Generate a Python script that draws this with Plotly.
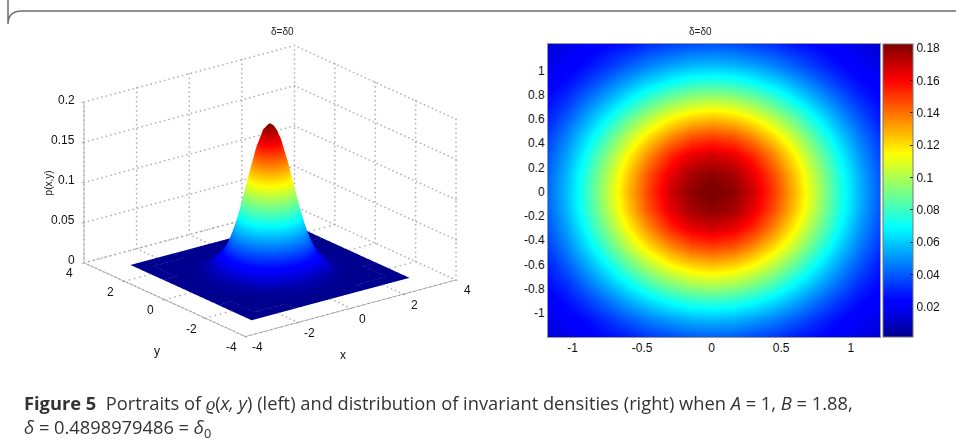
import numpy as np
import plotly.graph_objects as go

W, H = 956, 447

# Grid coordinates (one quadrant; mirrored about 0)
coords = [0, .15, .3, .45, .6, .75, .9, 1.05, 1.2, 1.35, 1.5, 1.75, 2, 2.5, 3]

# Density estimated from the colours/silhouette of the reference, one quadrant
density = [
 [.1845,.1800,.1680,.1495,.1270,.1030,.0780,.0574,.0405,.0273,.0175,.0075,.0029,.0003,0],
 [.1800,.1760,.1640,.1460,.1240,.1000,.0765,.0561,.0396,.0266,.0171,.0074,.0028,.0003,0],
 [.1680,.1640,.1530,.1360,.1155,.0930,.0710,.0523,.0369,.0248,.0159,.0069,.0026,.0002,0],
 [.1495,.1460,.1360,.1210,.1030,.0825,.0635,.0470,.0335,.0225,.0142,.0061,.0023,.0002,0],
 [.1270,.1240,.1155,.1030,.0870,.0695,.0540,.0400,.0285,.0195,.0120,.0052,.0020,.0002,0],
 [.1030,.1000,.0930,.0825,.0695,.0565,.0440,.0325,.0250,.0180,.0098,.0042,.0016,.0001,0],
 [.0780,.0765,.0710,.0635,.0540,.0440,.0340,.0260,.0210,.0150,.0076,.0033,.0012,.0001,0],
 [.0574,.0561,.0523,.0470,.0400,.0325,.0260,.0205,.0170,.0120,.0056,.0024,.0009,.0001,0],
 [.0405,.0396,.0369,.0335,.0285,.0250,.0210,.0170,.0140,.0100,.0039,.0017,.0006,.0001,0],
 [.0273,.0266,.0248,.0225,.0195,.0180,.0150,.0120,.0100,.0070,.0026,.0011,.0004,0,0],
 [.0175,.0171,.0159,.0142,.0120,.0098,.0076,.0056,.0039,.0026,.0017,.0007,.0003,0,0],
 [.0075,.0074,.0069,.0061,.0052,.0042,.0033,.0024,.0017,.0011,.0007,.0003,.0001,0,0],
 [.0029,.0028,.0026,.0023,.0020,.0016,.0012,.0009,.0006,.0004,.0003,.0001,.0001,0,0],
 [.0003,.0003,.0002,.0002,.0002,.0001,.0001,.0001,.0001,0,0,0,0,0,0],
 [0,0,0,0,0,0,0,0,0,0,0,0,0,0,0],
]

box_ticks = [-4, -2, 0, 2, 4]
z_ticks = [0, .05, .1, .15, .2]
z_labels = ["0", "0.05", "0.1", "0.15", "0.2"]
hx_ticks = [-1, -.5, 0, .5, 1]
hx_labels = ["-1", "-0.5", "0", "0.5", "1"]
hy_ticks = [-1, -.8, -.6, -.4, -.2, 0, .2, .4, .6, .8, 1]
hy_labels = ["-1", "-0.8", "-0.6", "-0.4", "-0.2", "0", "0.2", "0.4", "0.6", "0.8", "1"]
cb_ticks = [.02, .04, .06, .08, .1, .12, .14, .16, .18]
cb_labels = ["0.02", "0.04", "0.06", "0.08", "0.1", "0.12", "0.14", "0.16", "0.18"]
title_text = "δ=δ0"

jet = [[0, "#00008f"], [.11, "#0000ff"], [.125, "#0000ff"], [.375, "#00ffff"],
       [.625, "#ffff00"], [.875, "#ff0000"], [1, "#800000"]]

c = np.array(coords)
axis = np.concatenate([-c[:0:-1], c])
q = np.array(density)
top = np.hstack([q[:, :0:-1], q])
full = np.vstack([top[:0:-1], top])

FONT = "Liberation Sans, Arial, sans-serif"
fig = go.Figure()

fig.add_trace(go.Surface(
    x=axis, y=axis, z=full, cmin=0, cmax=.185, colorscale=jet, showscale=False,
    lighting=dict(ambient=1, diffuse=0, specular=0, roughness=1, fresnel=0),
    hoverinfo="skip", scene="scene",
))

# Dotted wall / floor grid drawn as tiny markers along each grid line
lo, hi = box_ticks[0], box_ticks[-1]
zlo, zhi = z_ticks[0], z_ticks[-1]
gx, gy, gz = [], [], []
def dots(p, r, n=60):
    for f in np.linspace(0, 1, n):
        X = p[0] + (r[0]-p[0])*f; Y = p[1] + (r[1]-p[1])*f; Z = p[2] + (r[2]-p[2])*f
        if Z == zlo and abs(X) <= coords[-1] and abs(Y) <= coords[-1]:
            continue  # hidden under the surface floor
        gx.append(X); gy.append(Y); gz.append(Z)
for t in box_ticks:
    dots((t, hi, zlo), (t, hi, zhi), 36)
    dots((hi, t, zlo), (hi, t, zhi), 36)
    dots((t, lo, zlo), (t, hi, zlo), 42)
    dots((lo, t, zlo), (hi, t, zlo), 42)
for t in z_ticks:
    dots((lo, hi, t), (hi, hi, t), 48)
    dots((hi, lo, t), (hi, hi, t), 42)
fig.add_trace(go.Scatter3d(x=gx, y=gy, z=gz, mode="markers",
                           marker=dict(color="#b0b0b0", size=1, line=dict(width=0)),
                           hoverinfo="skip", showlegend=False, scene="scene"))

fig.add_trace(go.Heatmap(
    x=axis, y=axis, z=full, zsmooth="best", zmin=.0014, zmax=.1825, colorscale=jet,
    hoverinfo="skip", xaxis="x", yaxis="y",
    colorbar=dict(x=883/W, xanchor="left", xref="paper", y=1-337/H, yanchor="bottom", yref="paper",
                  len=293, lenmode="pixels", thickness=30, thicknessmode="pixels",
                  xpad=0, ypad=0, outlinecolor="#777777", outlinewidth=1,
                  tickvals=cb_ticks, ticktext=cb_labels, ticks="inside", ticklen=3,
                  tickcolor="#222222", tickfont=dict(family=FONT, size=12, color="#111111")),
))

ax3 = dict(showbackground=False, showgrid=False, zeroline=False, showline=True,
           linecolor="#777777", linewidth=1, ticks="outside", ticklen=3, tickcolor="#777777",
           showspikes=False, showticklabels=False, title=dict(text=""))
a = np.deg2rad(37.5); e = np.deg2rad(20.5); R = 2.0; S = 1.474
tf = dict(family=FONT, size=12, color="#111111")
scene_notes = []
for t in box_ticks:
    scene_notes.append(dict(x=t, y=lo, z=zlo, text=str(t), showarrow=False, font=tf, xshift=11.5, yshift=-10.5))
    scene_notes.append(dict(x=lo, y=t, z=zlo, text=str(t), showarrow=False, font=tf, xshift=-14, yshift=-10.5))
for t, s in zip(z_ticks, z_labels):
    scene_notes.append(dict(x=lo, y=hi, z=t, text=s, showarrow=False, font=tf, xanchor="right", xshift=-7, yshift=2.5))
scene_notes.append(dict(x=0, y=lo, z=zlo, text="x", showarrow=False, font=tf, xshift=-8, yshift=-47))
scene_notes.append(dict(x=lo, y=0, z=zlo, text="y", showarrow=False, font=tf, xshift=-8, yshift=-51))
scene_notes.append(dict(x=lo, y=hi, z=.1, text="p(x,y)", showarrow=False, textangle=-90,
                        font=dict(family=FONT, size=10, color="#111111"), xshift=-36, yshift=0))

fig.update_layout(
    width=W, height=H, margin=dict(l=0, r=0, t=0, b=0),
    paper_bgcolor="white", plot_bgcolor="white", showlegend=False,
    scene=dict(
        domain=dict(x=[30/W, 510/W], y=[1-371/H, 1-11/H]),
        aspectmode="manual", aspectratio=dict(x=S, y=S, z=.647*S),
        annotations=scene_notes,
        camera=dict(projection=dict(type="orthographic"),
                    up=dict(x=0, y=0, z=1), center=dict(x=0, y=0, z=0),
                    eye=dict(x=-R*np.sin(a)*np.cos(e), y=-R*np.cos(a)*np.cos(e), z=R*np.sin(e))),
        xaxis=dict(ax3, range=[lo, hi], tickvals=box_ticks),
        yaxis=dict(ax3, range=[lo, hi], tickvals=box_ticks),
        zaxis=dict(ax3, range=[zlo, zhi], tickvals=z_ticks),
    ),
    xaxis=dict(domain=[548/W, 880/W], range=[-1.176, 1.21], tickvals=hx_ticks, ticktext=hx_labels,
               ticks="", showgrid=False, zeroline=False, showline=True, mirror=True,
               linecolor="#999999", tickfont=tf),
    yaxis=dict(domain=[1-337/H, 1-44/H], range=[-1.2, 1.22], tickvals=hy_ticks, ticktext=hy_labels,
               ticks="", showgrid=False, zeroline=False, showline=True, mirror=True,
               linecolor="#999999", tickfont=tf),
    annotations=[
        dict(text=title_text, x=269/W, y=1-32/H, xref="paper", yref="paper", showarrow=False, yanchor="middle",
             font=dict(family=FONT, size=10, color="#222222")),
        dict(text=title_text, x=714/W, y=1-32/H, xref="paper", yref="paper", showarrow=False, yanchor="middle",
             font=dict(family=FONT, size=10, color="#222222")),
        dict(text="<b>Figure 5</b>  Portraits of <i>ϱ</i>(<i>x, y</i>) (left) and distribution of invariant densities (right) when <i>A</i> = 1, <i>B</i> = 1.88,",
             x=22/W, y=1-402/H, xref="paper", yref="paper", xanchor="left", yanchor="middle", showarrow=False,
             font=dict(family="Open Sans", size=18.3, color="#333333")),
        dict(text="<i>δ</i> = 0.4898979486 = <i>δ</i><sub>0</sub>",
             x=22/W, y=1-428/H, xref="paper", yref="paper", xanchor="left", yanchor="middle", showarrow=False,
             font=dict(family="Open Sans", size=18.3, color="#333333")),
    ],
    shapes=[dict(type="path", xref="paper", yref="paper", line=dict(color="#6e6e6e", width=1.5),
                 path=f"M {8/W},1 L {8/W},{1-24/H} Q {8/W},{1-11/H} {22/W},{1-11/H} L 1,{1-11/H}")],
)
fig.write_html("out.html", post_script="document.body.style.margin='0';",
               config=dict(displayModeBar=False))
